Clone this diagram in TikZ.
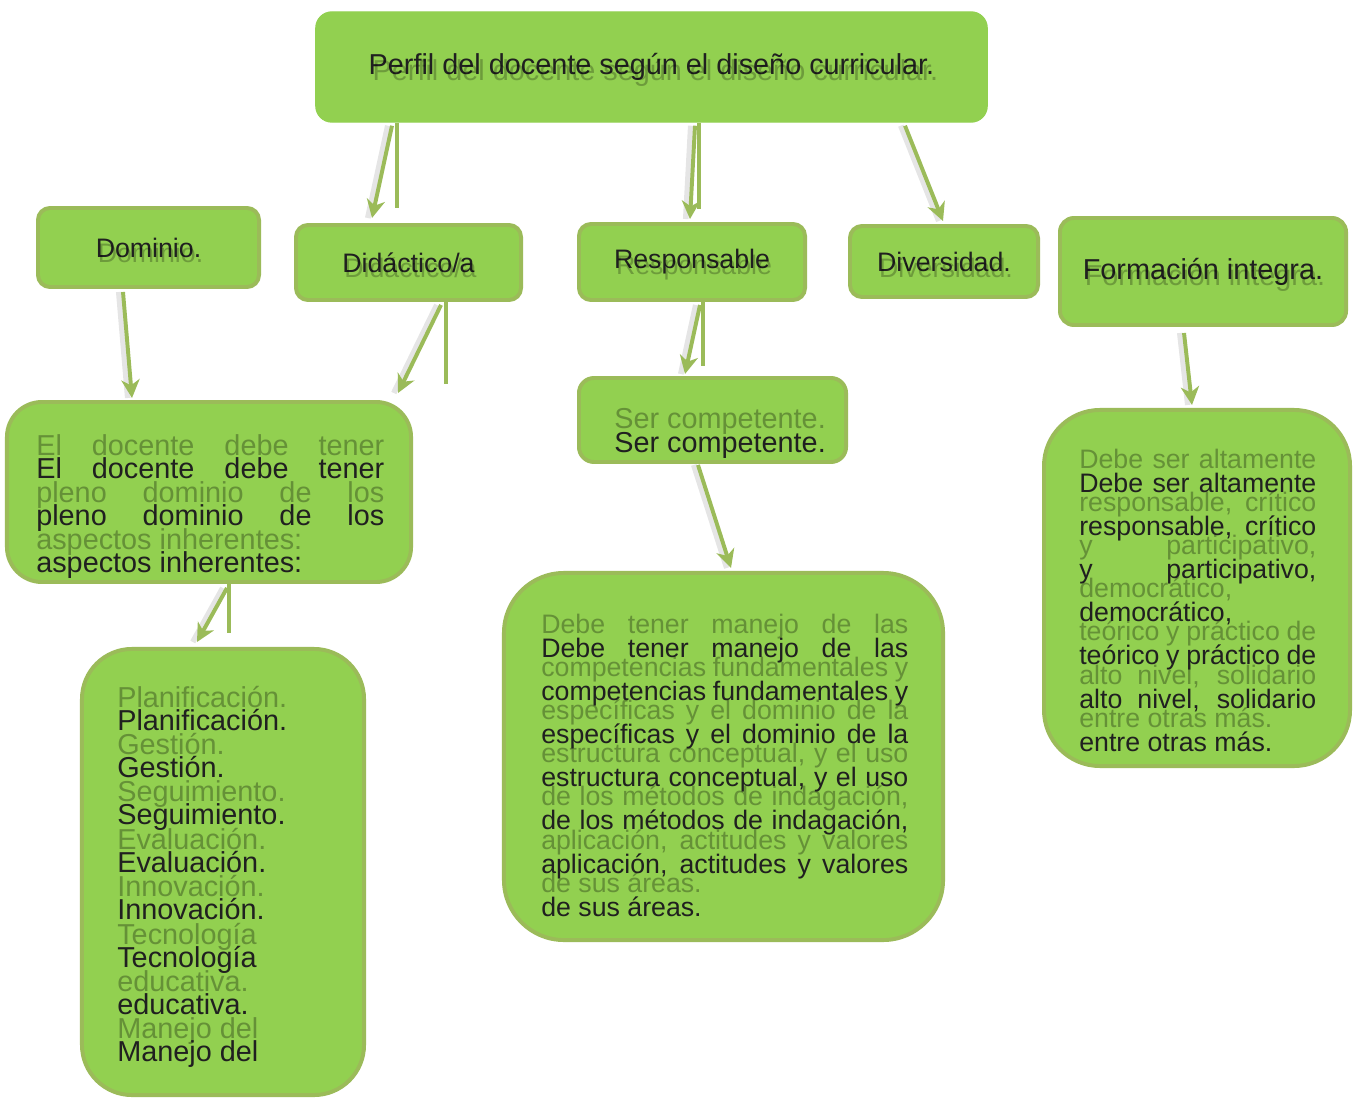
\documentclass[tikz,border=0pt]{standalone}
\usepackage{fontspec}
\setmainfont{Liberation Sans}
\usepackage{xcolor}
\usetikzlibrary{arrows.meta,calc}
\definecolor{LEAF}{HTML}{92D050}
\definecolor{OLIVE}{HTML}{9BBB59}
\definecolor{INK}{HTML}{202020}
\newcommand{\pxu}{0.025cm}
\newcommand{\topstrut}{\rule{0pt}{20pt}}
% ---- texts of the big boxes (used twice: shadow + ink) --------------------
\newcommand{\plenotext}{\topstrut El docente debe tener\linebreak pleno dominio de los\linebreak aspectos inherentes:}
\newcommand{\aspectostext}{\topstrut Planificación.\newline Gestión.\newline Seguimiento.\newline Evaluación.\newline Innovación.\newline Tecnología\newline educativa.\newline Manejo del}
\newcommand{\competext}{\topstrut Ser competente.}
\newcommand{\manejotext}{\topstrut Debe tener manejo de las\linebreak competencias fundamentales y\linebreak específicas y el dominio de la\linebreak estructura conceptual, y el uso\linebreak de los métodos de indagación,\linebreak aplicación, actitudes y valores\linebreak de sus áreas.}
\newcommand{\altatext}{\topstrut Debe ser altamente\linebreak responsable, crítico\linebreak y participativo,\linebreak democrático,\newline teórico y práctico de\linebreak alto nivel, solidario\linebreak entre otras más.}

\begin{document}
\begin{tikzpicture}[
  x=0.025cm, y=-0.025cm,
  box/.style={draw=OLIVE, fill=LEAF, line width=2.8pt, inner sep=0pt, text=INK},
  head/.style={box, rounded corners=0.3cm, font=\fontsize{19}{23}\selectfont},
  bighead/.style={head, font=\fontsize{20.5}{24}\selectfont},
  hghost/.style={inner sep=0pt, text=black, text opacity=0.25},
  body/.style={anchor=north west, inner sep=0pt, align=justify, text=INK},
  ghost/.style={body, text=black, text opacity=0.3},
  wide/.style={font=\fontsize{20.5}{33.7}\selectfont},
  tight/.style={font=\fontsize{19}{30.7}\selectfont},
  stub/.style={draw=OLIVE, line width=2.8pt},
  link/.style={-{Stealth[length=13pt,width=13pt,inset=4pt]}, draw=OLIVE, line width=2.8pt,
    preaction={draw=black, opacity=0.1, line width=4pt, -, transform canvas={xshift=-3pt}}},
]
\useasboundingbox (0,0) rectangle (1359,1102);

% ---- title box ------------------------------------------------------------
\node[bighead, draw=LEAF, line width=1pt, rounded corners=0.4cm,
  minimum width=16.775cm, minimum height=2.75cm] (perfil) at (651.5,67)
  {Perfil del docente según el diseño curricular.};
\node[hghost, font=\fontsize{20.5}{24}\selectfont] (perfil-sh) at ([shift={(4,6)}]perfil.center)
  {Perfil del docente según el diseño curricular.};

% ---- second row -----------------------------------------------------------
\node[head, minimum width=5.525cm, minimum height=1.975cm] (dominio) at (148.5,247.5) {Dominio.};
\node[head, minimum width=5.625cm, minimum height=1.875cm] (didactico) at (408.5,262.5) {Didáctico/a};
\node[head, minimum width=5.65cm, minimum height=1.9cm] (respons) at (692,262) {Responsable};
\node[head, minimum width=4.7cm, minimum height=1.775cm] (divers) at (944,261.5) {Diversidad.};
\node[bighead, rounded corners=0.35cm, minimum width=7.15cm, minimum height=2.675cm] (formacion) at (1203,271.5) {Formación integra.};

\node[hghost, font=\fontsize{19}{23}\selectfont] (dominio-sh) at ([shift={(2,5)}]dominio.center) {Dominio.};
\node[hghost, font=\fontsize{19}{23}\selectfont] (didactico-sh) at ([shift={(2,5)}]didactico.center) {Didáctico/a};
\node[hghost, font=\fontsize{19}{23}\selectfont] (respons-sh) at ([shift={(2,6)}]respons.center) {Responsable};
\node[hghost, font=\fontsize{19}{23}\selectfont] (divers-sh) at ([shift={(2,6)}]divers.center) {Diversidad.};
\node[hghost, font=\fontsize{20.5}{24}\selectfont] (formacion-sh) at ([shift={(2,6)}]formacion.center) {Formación integra.};

% ---- content boxes --------------------------------------------------------
\node[box, rounded corners=0.875cm, minimum width=10.1cm, minimum height=4.5cm] (pleno) at (209,492) {};
\node[box, rounded corners=0.375cm, minimum width=6.675cm, minimum height=2.1cm] (compet) at (712.5,420) {};
\node[box, rounded corners=1.25cm, minimum width=7.05cm, minimum height=11.15cm] (aspectos) at (223,872) {};
\node[box, rounded corners=1.5cm, minimum width=10.975cm, minimum height=9.175cm] (manejo) at (723.5,756.5) {};
\node[box, rounded corners=1.4cm, minimum width=7.65cm, minimum height=8.9cm] (altamente) at (1197,588) {};

% ---- texts: shadow first, ink on top --------------------------------------
\node[ghost, wide, text width=8.7cm] (pleno-sh) at (36,426.8) {\plenotext};
\node[body, wide, text width=8.7cm] (pleno-txt) at (36,449.8) {\plenotext};
\node[ghost, wide, text width=6.5cm] (compet-sh) at (614,399.8) {\competext};
\node[body, wide, text width=6.5cm] (compet-txt) at (614,423.8) {\competext};
\node[ghost, wide, text width=6cm] (aspectos-sh) at (117,678.8) {\aspectostext};
\node[body, wide, text width=6cm] (aspectos-txt) at (117,701.8) {\aspectostext};
\node[ghost, tight, text width=9.175cm] (manejo-sh) at (541,604.8) {\manejotext};
\node[body, tight, text width=9.175cm] (manejo-txt) at (541,628.8) {\manejotext};
\node[ghost, tight, text width=5.925cm] (altamente-sh) at (1079,439.8) {\altatext};
\node[body, tight, text width=5.925cm] (altamente-txt) at (1079,463.8) {\altatext};

% ---- connectors -----------------------------------------------------------
\draw[stub] ([xshift=-254.5*\pxu]perfil.south) -- ++(0,85);
\draw[link] ([xshift=-259.5*\pxu, yshift=-3*\pxu]perfil.south) -- ([xshift=-36.5*\pxu, yshift=5*\pxu]didactico.north);
\draw[stub] ([xshift=47.5*\pxu]perfil.south) -- ++(0,86);
\draw[link] ([xshift=43.5*\pxu, yshift=-3*\pxu]perfil.south) -- ([xshift=-2*\pxu, yshift=3*\pxu]respons.north);
\draw[link] ([xshift=253.5*\pxu, yshift=-3*\pxu]perfil.south) -- ([xshift=-1*\pxu, yshift=3*\pxu]divers.north);

\draw[link] ([xshift=-25.5*\pxu, yshift=-3*\pxu]dominio.south) -- ([xshift=-77*\pxu, yshift=2*\pxu]pleno.north);
\draw[stub] ([xshift=37.5*\pxu]didactico.south) -- ++(0,82);
\draw[link] ([xshift=32.5*\pxu, yshift=-3*\pxu]didactico.south) -- ([xshift=189*\pxu, yshift=7*\pxu]pleno.north);
\draw[stub] ([xshift=11*\pxu]respons.south) -- ++(0,64);
\draw[link] ([xshift=8*\pxu, yshift=-3*\pxu]respons.south) -- ([xshift=-27.5*\pxu, yshift=2*\pxu]compet.north);
\draw[link] ([xshift=-14.5*\pxu, yshift=-1*\pxu]compet.south) -- ([xshift=7.5*\pxu, yshift=3*\pxu]manejo.north);
\draw[stub] ([xshift=20*\pxu]pleno.south) -- ++(0,49);
\draw[link] ([xshift=18*\pxu, yshift=-4*\pxu]pleno.south) -- ([xshift=-26*\pxu, yshift=5*\pxu]aspectos.north);
\draw[link] ([xshift=-19*\pxu, yshift=-6*\pxu]formacion.south) -- ([xshift=-5*\pxu, yshift=3*\pxu]altamente.north);

\end{tikzpicture}
\end{document}
